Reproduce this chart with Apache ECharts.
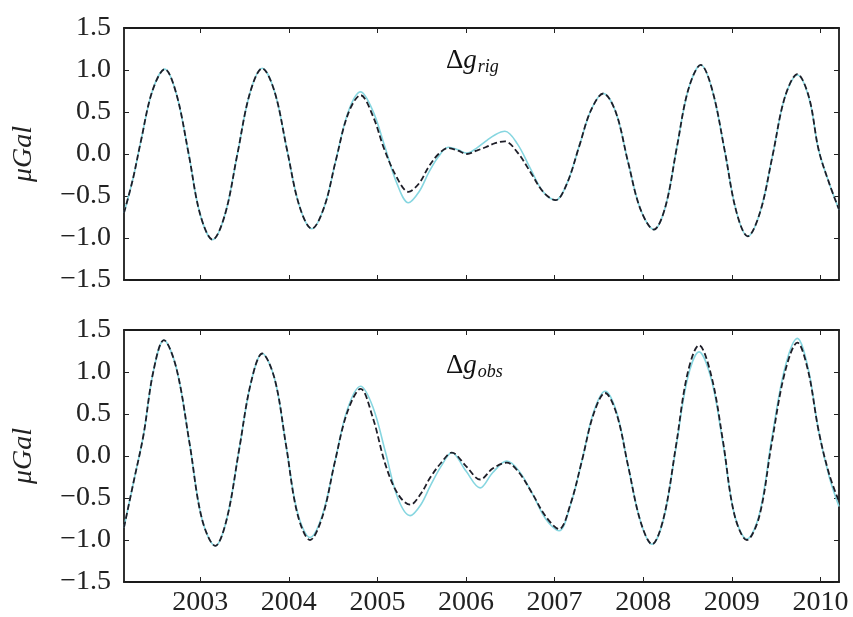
<!DOCTYPE html>
<html>
<head>
<meta charset="utf-8">
<script src="https://cdn.jsdelivr.net/npm/echarts@6/dist/echarts.min.js"></script>
<style>
html,body{margin:0;padding:0;background:#fff;}
#chart{width:853px;height:617px;}
</style>
</head>
<body>
<div id="chart"></div>
<script>
// ---- data ----
const xTicks = [2003, 2004, 2005, 2006, 2007, 2008, 2009, 2010];
const yTicks = [-1.5, -1.0, -0.5, 0.0, 0.5, 1.0, 1.5];

const rigYears = [2002.14, 2002.24, 2002.33, 2002.46, 2002.60, 2002.73, 2002.87, 2003.00, 2003.14, 2003.28, 2003.42, 2003.56, 2003.70, 2003.84, 2003.98, 2004.12, 2004.26, 2004.40, 2004.53, 2004.67, 2004.81, 2004.95, 2005.08, 2005.22, 2005.35, 2005.47, 2005.58, 2005.69, 2005.80, 2005.91, 2006.01, 2006.12, 2006.22, 2006.33, 2006.44, 2006.58, 2006.73, 2006.87, 2007.01, 2007.14, 2007.28, 2007.41, 2007.55, 2007.69, 2007.83, 2007.97, 2008.12, 2008.25, 2008.38, 2008.51, 2008.65, 2008.78, 2008.92, 2009.05, 2009.18, 2009.32, 2009.46, 2009.60, 2009.74, 2009.87, 2009.98, 2010.10, 2010.21];
const rigCyan   = [-0.70, -0.30, 0.15, 0.75, 1.01, 0.72, 0.00, -0.72, -1.02, -0.72, 0.00, 0.72, 1.02, 0.74, 0.05, -0.62, -0.89, -0.63, -0.08, 0.50, 0.74, 0.51, 0.10, -0.35, -0.58, -0.45, -0.22, -0.03, 0.08, 0.05, 0.01, 0.07, 0.15, 0.23, 0.27, 0.12, -0.18, -0.45, -0.55, -0.35, 0.10, 0.52, 0.72, 0.50, -0.10, -0.66, -0.90, -0.63, 0.08, 0.77, 1.06, 0.76, 0.04, -0.68, -0.98, -0.69, -0.02, 0.68, 0.94, 0.67, 0.05, -0.35, -0.66];
const rigDashed = [-0.70, -0.30, 0.15, 0.75, 1.01, 0.72, 0.00, -0.72, -1.02, -0.72, 0.00, 0.72, 1.02, 0.74, 0.05, -0.62, -0.89, -0.63, -0.08, 0.48, 0.70, 0.45, 0.05, -0.28, -0.45, -0.35, -0.15, 0.00, 0.07, 0.04, 0.00, 0.04, 0.08, 0.13, 0.15, 0.02, -0.22, -0.45, -0.55, -0.35, 0.10, 0.52, 0.72, 0.50, -0.10, -0.66, -0.90, -0.63, 0.08, 0.77, 1.06, 0.76, 0.04, -0.68, -0.98, -0.69, -0.02, 0.68, 0.95, 0.68, 0.05, -0.35, -0.66];

const obsYears = [2002.14, 2002.25, 2002.36, 2002.47, 2002.59, 2002.73, 2002.88, 2003.02, 2003.17, 2003.30, 2003.44, 2003.57, 2003.70, 2003.84, 2003.97, 2004.10, 2004.24, 2004.38, 2004.52, 2004.66, 2004.81, 2004.95, 2005.09, 2005.23, 2005.37, 2005.49, 2005.60, 2005.72, 2005.84, 2006.00, 2006.16, 2006.30, 2006.46, 2006.60, 2006.75, 2006.90, 2007.05, 2007.18, 2007.31, 2007.44, 2007.57, 2007.70, 2007.83, 2007.97, 2008.10, 2008.23, 2008.37, 2008.50, 2008.63, 2008.77, 2008.90, 2009.03, 2009.17, 2009.31, 2009.45, 2009.60, 2009.74, 2009.86, 2009.98, 2010.10, 2010.21];
const obsCyan   = [-0.85, -0.30, 0.25, 1.00, 1.38, 1.05, 0.15, -0.75, -1.07, -0.75, 0.08, 0.86, 1.22, 0.92, 0.12, -0.68, -0.97, -0.70, -0.07, 0.55, 0.83, 0.58, 0.05, -0.50, -0.71, -0.58, -0.35, -0.12, 0.04, -0.18, -0.38, -0.20, -0.06, -0.18, -0.45, -0.75, -0.89, -0.58, -0.05, 0.52, 0.77, 0.52, -0.12, -0.78, -1.05, -0.75, 0.10, 0.92, 1.24, 0.91, 0.15, -0.70, -0.99, -0.70, 0.20, 1.05, 1.40, 1.05, 0.30, -0.25, -0.60];
const obsDashed = [-0.85, -0.30, 0.25, 1.00, 1.38, 1.05, 0.15, -0.75, -1.07, -0.75, 0.08, 0.86, 1.22, 0.92, 0.12, -0.70, -1.00, -0.72, -0.07, 0.52, 0.80, 0.45, -0.10, -0.45, -0.58, -0.45, -0.25, -0.08, 0.04, -0.12, -0.28, -0.15, -0.08, -0.20, -0.45, -0.72, -0.87, -0.57, -0.05, 0.50, 0.75, 0.50, -0.12, -0.78, -1.05, -0.74, 0.12, 0.98, 1.32, 0.95, 0.18, -0.70, -1.00, -0.72, 0.15, 1.00, 1.35, 1.02, 0.30, -0.22, -0.54];

const xMin = 2002.14, xMax = 2010.21;

// ---- chart ----
const FONT = '"Liberation Serif", serif';
const pair = (xs, ys) => xs.map((x, i) => [x, ys[i]]);
const fmtY = v => (v < 0 ? '\u2212' : '') + Math.abs(v).toFixed(1);

const grids = [
  {left: 124, right: 14, top: 28, height: 252},
  {left: 124, right: 14, top: 330, height: 253}
];

function xAxes(gi, showLabels) {
  const base = {
    type: 'value', gridIndex: gi, min: xMin, max: xMax,
    axisLine: {show: true, onZero: false, lineStyle: {color: '#1a1a1a', width: 1.8}},
    axisTick: {show: true, inside: true, length: 5, customValues: xTicks, lineStyle: {color: '#222'}},
    splitLine: {show: false}
  };
  return [
    Object.assign({}, base, {position: 'bottom',
      axisLabel: {show: showLabels, customValues: xTicks, fontFamily: FONT, fontSize: 28, color: '#222', margin: 7, formatter: v => String(v)}}),
    Object.assign({}, base, {position: 'top', axisLabel: {show: false}})
  ];
}
function yAxes(gi) {
  const base = {
    type: 'value', gridIndex: gi, min: -1.5, max: 1.5, interval: 0.5,
    axisLine: {show: true, lineStyle: {color: '#1a1a1a', width: 1.8}},
    axisTick: {show: true, inside: true, length: 5, lineStyle: {color: '#222'}},
    splitLine: {show: false}
  };
  return [
    Object.assign({}, base, {position: 'left',
      name: '\u03bcGal', nameLocation: 'middle', nameGap: 86, nameRotate: 90,
      nameTextStyle: {fontFamily: FONT, fontStyle: 'italic', fontSize: 28, color: '#222'},
      axisLabel: {fontFamily: FONT, fontSize: 28, color: '#222', margin: 13, formatter: fmtY}}),
    Object.assign({}, base, {position: 'right', axisLabel: {show: false}})
  ];
}

const cyanStyle = {color: '#86d6e0', width: 1.6};
const dashStyle = {color: '#1e1e28', width: 1.8, type: [6, 3]};

function titleRich(sub, top) {
  return {left: 446, top: top, padding: 0,
    text: '{d|\u0394}{g|g}{s|' + sub + '}',
    textStyle: {fontWeight: 'normal', rich: {
      d: {fontFamily: FONT, fontWeight: 'normal', fontSize: 27, color: '#111'},
      g: {fontFamily: FONT, fontWeight: 'normal', fontStyle: 'italic', fontSize: 27, color: '#111'},
      s: {fontFamily: FONT, fontWeight: 'normal', fontStyle: 'italic', fontSize: 18, color: '#111', padding: [12, 0, 0, 1]}
    }}};
}

const option = {
  animation: false,
  backgroundColor: '#fff',
  grid: grids,
  xAxis: [...xAxes(0, false), ...xAxes(1, true)],
  yAxis: [...yAxes(0), ...yAxes(1)],
  title: [titleRich('rig', 46), titleRich('obs', 351)],
  series: [
    {type: 'line', xAxisIndex: 0, yAxisIndex: 0, data: pair(rigYears, rigCyan), smooth: 0.35, symbol: 'none', lineStyle: cyanStyle, z: 2},
    {type: 'line', xAxisIndex: 0, yAxisIndex: 0, data: pair(rigYears, rigDashed), smooth: 0.35, symbol: 'none', lineStyle: dashStyle, z: 3},
    {type: 'line', xAxisIndex: 2, yAxisIndex: 2, data: pair(obsYears, obsCyan), smooth: 0.35, symbol: 'none', lineStyle: cyanStyle, z: 2},
    {type: 'line', xAxisIndex: 2, yAxisIndex: 2, data: pair(obsYears, obsDashed), smooth: 0.35, symbol: 'none', lineStyle: dashStyle, z: 3}
  ]
};

const chart = echarts.init(document.getElementById('chart'), null, {renderer: 'canvas'});
chart.setOption(option);
</script>
</body>
</html>
